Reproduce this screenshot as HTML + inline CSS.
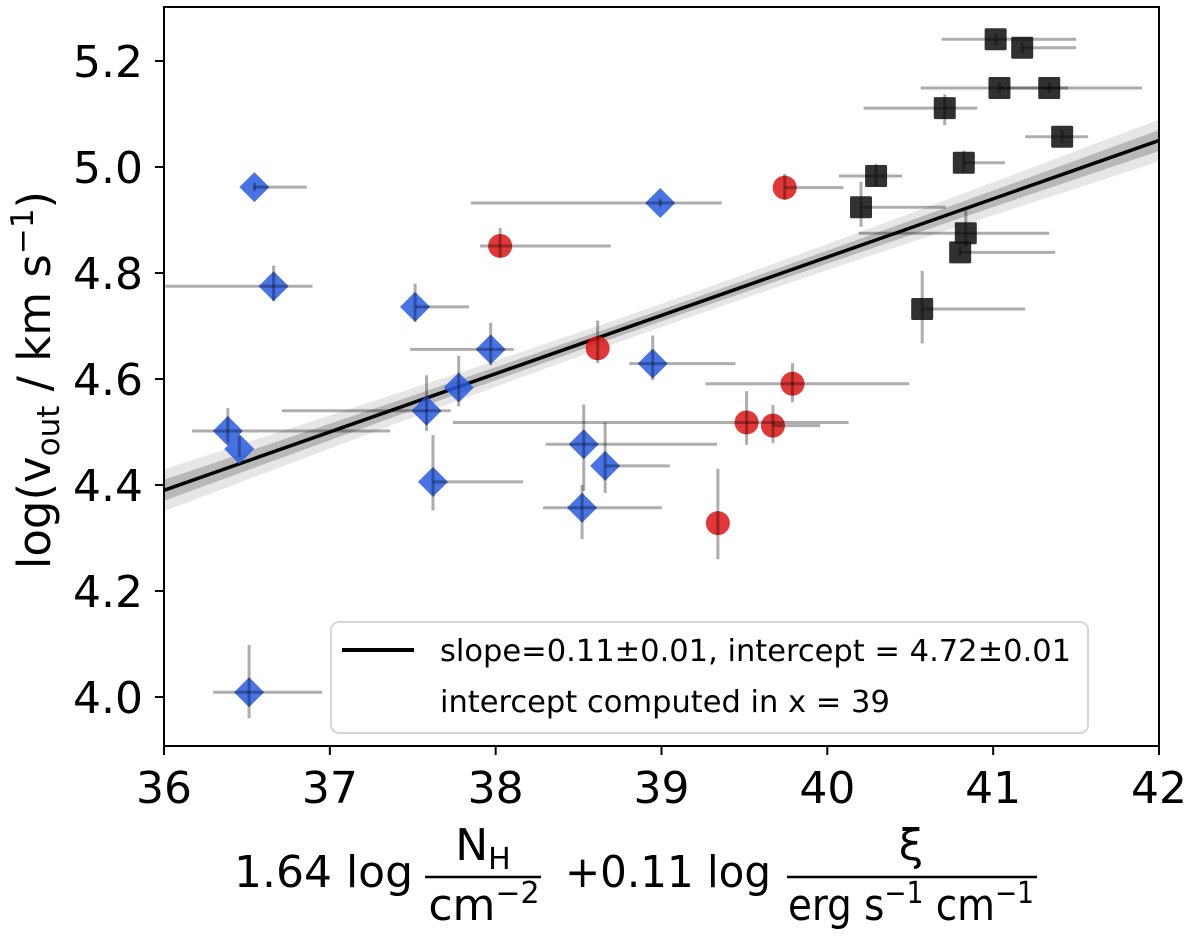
<!DOCTYPE html>
<html><head><meta charset="utf-8"><style>
html,body{margin:0;padding:0;background:#fff;}
svg{display:block;font-family:"DejaVu Sans","Liberation Sans",sans-serif;}
</style></head><body>
<svg id="chart" width="1200" height="939" viewBox="0 0 1200 939" xmlns="http://www.w3.org/2000/svg">
<rect width="1200" height="939" fill="#fff"/>
<g id="band"></g>
<g id="marks"></g>
<g id="bars"></g>
<g id="axes"></g>
<g>
  <rect x="331" y="622" width="757" height="111" rx="8" fill="#fff" fill-opacity="0.85" stroke="#d6d6d6" stroke-width="2"/>
  <line x1="342" y1="650" x2="414" y2="650" stroke="#000" stroke-width="4"/>
  <text x="440" y="661" font-size="30.5">slope=0.11±0.01, intercept = 4.72±0.01</text>
  <text x="440" y="712" font-size="30.5">intercept computed in x = 39</text>
</g>
<text transform="translate(50,380) rotate(-90)" text-anchor="middle" font-size="45">log(v<tspan font-size="31" dy="9">out</tspan><tspan dy="-9"> / km s</tspan><tspan font-size="31" dy="-17">−1</tspan><tspan dy="17">)</tspan></text>
<g font-size="44">
  <text x="234" y="887">1.64 log</text>
  <text x="483" y="860" text-anchor="middle">N<tspan font-size="30" dy="9">H</tspan></text>
  <line x1="425" y1="877" x2="541" y2="877" stroke="#000" stroke-width="2.5"/>
  <text x="484" y="920" text-anchor="middle">cm<tspan font-size="30" dy="-17">−2</tspan></text>
  <text x="565" y="887" textLength="206" lengthAdjust="spacingAndGlyphs">+0.11 log</text>
  <text x="911" y="860" text-anchor="middle">ξ</text>
  <line x1="787" y1="877" x2="1037" y2="877" stroke="#000" stroke-width="2.5"/>
  <text x="788" y="920" textLength="246" lengthAdjust="spacingAndGlyphs">erg s<tspan font-size="30" dy="-17">−1</tspan><tspan dy="17"> cm</tspan><tspan font-size="30" dy="-17">−1</tspan></text>
</g>
</svg>
<script>
// x-axis and y-axis tick values
const xTicks = [36, 37, 38, 39, 40, 41, 42];
const yTicks = [4.0, 4.2, 4.4, 4.6, 4.8, 5.0, 5.2];
// fit
const fitSlope = 0.11, fitIntercept = 4.72, fitX0 = 39, slopeErr = 0.005, interceptErr = 0.01;
// blue diamonds: x, xlo, xhi, y, ylo, yhi
const blueX   = [36.545,36.661,37.514,37.970,37.777,37.583,36.385,36.454,37.622,38.531,38.660,38.521,38.992,38.947,36.513];
const blueXlo = [36.545,36.008,37.514,37.484,37.777,36.712,36.169,36.454,37.622,38.302,38.660,38.286,37.850,38.806,36.296];
const blueXhi = [36.861,36.896,37.840,38.109,37.777,37.729,37.363,36.454,38.165,39.335,39.050,39.002,39.363,39.446,36.953];
const blueY   = [4.962,4.775,4.736,4.656,4.584,4.540,4.502,4.468,4.406,4.477,4.436,4.357,4.932,4.629,4.009];
const blueYlo = [4.955,4.747,4.708,4.626,4.548,4.502,4.480,4.453,4.352,4.389,4.385,4.298,4.925,4.598,3.960];
const blueYhi = [4.970,4.814,4.780,4.706,4.644,4.607,4.545,4.492,4.494,4.552,4.518,4.400,4.940,4.682,4.098];
// red circles
const redX   = [38.027,38.615,39.743,39.790,39.513,39.672,39.340];
const redXlo = [37.906,38.615,39.743,39.265,37.742,39.672,39.340];
const redXhi = [38.694,38.615,40.097,40.493,40.128,39.957,39.340];
const redY   = [4.851,4.658,4.961,4.591,4.518,4.512,4.328];
const redYlo = [4.830,4.630,4.938,4.556,4.476,4.479,4.260];
const redYhi = [4.885,4.710,4.987,4.630,4.577,4.551,4.431];
// black squares
const blkX   = [41.015,41.175,41.038,41.338,40.708,41.416,40.823,40.294,40.203,40.835,40.801,40.572];
const blkXlo = [40.689,41.175,40.563,41.042,40.219,41.193,40.823,40.069,40.203,40.189,40.801,40.572];
const blkXhi = [41.500,41.501,41.452,41.897,40.904,41.573,41.072,40.451,40.715,41.338,41.373,41.193];
const blkY   = [5.241,5.225,5.149,5.149,5.111,5.057,5.008,4.983,4.924,4.875,4.839,4.732];
const blkYlo = [5.230,5.215,5.140,5.140,5.079,5.045,4.990,4.965,4.887,4.850,4.830,4.667];
const blkYhi = [5.252,5.235,5.160,5.160,5.137,5.070,5.031,5.006,4.972,4.918,4.850,4.804];

const NS = "http://www.w3.org/2000/svg";
const L = 164, R = 1159, T = 7, B = 746;
function sx(v){ return L + (v - 36) * (R - L) / 6; }
function sy(v){ return 697 - (v - 4.0) * 530; }
function mk(tag, attrs, parent){ const e = document.createElementNS(NS, tag); for (const k in attrs) e.setAttribute(k, attrs[k]); parent.appendChild(e); return e; }

const band = document.getElementById('band');
function fitY(x){ return fitIntercept + fitSlope * (x - fitX0); }
function sig(x){ return Math.sqrt(interceptErr*interceptErr + Math.pow(slopeErr*(x - fitX0), 2)); }
[[2.2,'#e6e6e6'],[1.1,'#b8b8b8']].forEach(function(p, i){
  let up = [], dn = [];
  for (let x = 36; x <= 42.001; x += 0.25){ up.push(sx(x)+','+sy(fitY(x)+p[0]*sig(x))); dn.unshift(sx(x)+','+sy(fitY(x)-p[0]*sig(x))); }
  const poly = mk('polygon', {points: up.concat(dn).join(' '), fill: p[1]}, band);
  
  
});
const fl = mk('line', {x1: sx(36), y1: sy(fitY(36)), x2: sx(42), y2: sy(fitY(42)), stroke: '#000', 'stroke-width': 3.5}, band);



const marks = document.getElementById('marks'), bars = document.getElementById('bars');
function series(X, Xlo, Xhi, Y, Ylo, Yhi, kind){
  for (let i = 0; i < X.length; i++){
    const cx = sx(X[i]), cy = sy(Y[i]);
    let m;
    if (kind === 'blue'){
      m = mk('polygon', {points: cx+','+(cy-15)+' '+(cx+15)+','+cy+' '+cx+','+(cy+15)+' '+(cx-15)+','+cy, fill: 'rgba(40,90,225,0.85)'}, marks);
      
    } else if (kind === 'red'){
      m = mk('circle', {cx: cx, cy: cy, r: 12, fill: 'rgba(220,20,20,0.85)'}, marks);
      
    } else {
      m = mk('rect', {x: cx-11, y: cy-11, width: 22, height: 22, rx: 1.5, fill: 'rgba(20,20,20,0.88)'}, marks);
      
    }
    
    const h = mk('line', {x1: sx(Xlo[i]), y1: cy, x2: sx(Xhi[i]), y2: cy, stroke: 'rgba(0,0,0,0.32)', 'stroke-width': 3}, bars);
    
    
    const v = mk('line', {x1: cx, y1: sy(Ylo[i]), x2: cx, y2: sy(Yhi[i]), stroke: 'rgba(0,0,0,0.32)', 'stroke-width': 3}, bars);
    
    
  }
}
series(blueX, blueXlo, blueXhi, blueY, blueYlo, blueYhi, 'blue');
series(redX, redXlo, redXhi, redY, redYlo, redYhi, 'red');
series(blkX, blkXlo, blkXhi, blkY, blkYlo, blkYhi, 'black');

const axes = document.getElementById('axes');
const fr = mk('rect', {x: L, y: T, width: R-L, height: B-T, fill: 'none', stroke: '#000', 'stroke-width': 2}, axes);


xTicks.forEach(function(t){
  const x = sx(t);
  const tk = mk('line', {x1: x, y1: B, x2: x, y2: B+9, stroke: '#000', 'stroke-width': 2}, axes);
  
  
  const tx = mk('text', {x: x, y: 803, 'text-anchor': 'middle', 'font-size': 44}, axes);
  tx.textContent = String(t);
  
  
});
yTicks.forEach(function(t){
  const y = sy(t);
  const tk = mk('line', {x1: L-9, y1: y, x2: L, y2: y, stroke: '#000', 'stroke-width': 2}, axes);
  
  
  const tx = mk('text', {x: 143, y: y+16, 'text-anchor': 'end', 'font-size': 44}, axes);
  tx.textContent = t.toFixed(1);
  
  
});
</script>
</body></html>
